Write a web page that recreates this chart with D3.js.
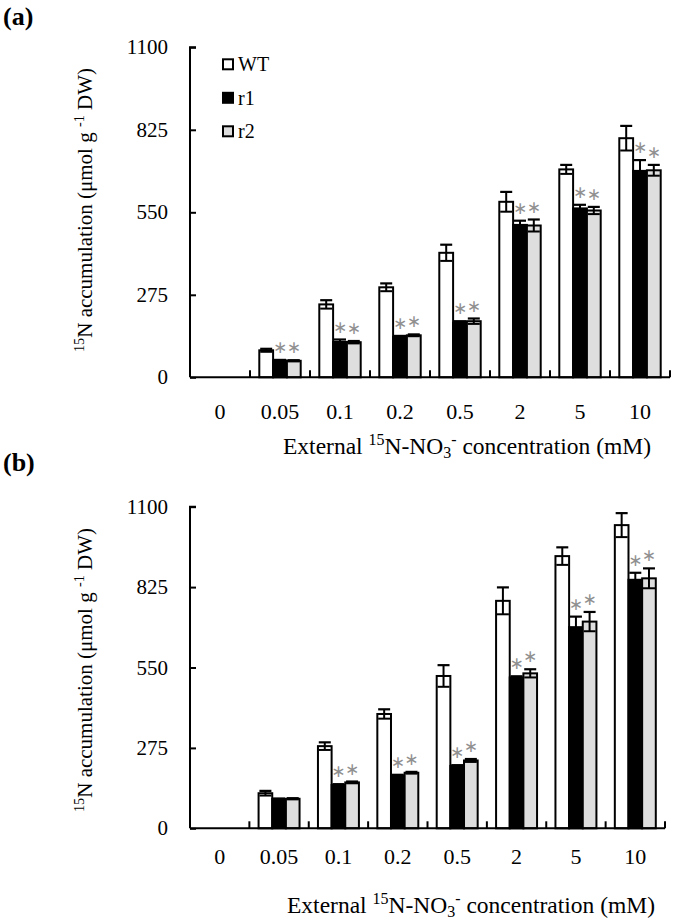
<!DOCTYPE html>
<html><head><meta charset="utf-8">
<script src="https://cdn.jsdelivr.net/npm/d3@7"></script>
<style>
body{margin:0;background:#fff}
svg{display:block}
text{font-family:"Liberation Serif","Times New Roman",serif;fill:#000}
</style>
</head><body>
<svg id="chart" width="675" height="923"></svg>
<script>
// ---------- data ----------
const categories = ["0", "0.05", "0.1", "0.2", "0.5", "2", "5", "10"];
const seriesNames = ["WT", "r1", "r2"];
const yTickValues = [0, 275, 550, 825, 1100];

// panel (a)
const wtA    = [0, 90, 243, 300, 415, 585, 693, 797];
const wtAErr = [0, 5, 14, 13, 27, 33, 15, 41];
const r1A    = [0, 56, 118, 135, 182, 508, 563, 688];
const r1AErr = [0, 2, 8, 3, 5, 14, 12, 36];
const r2A    = [0, 55, 117, 140, 187, 506, 556, 690];
const r2AErr = [0, 2, 4, 3, 9, 20, 12, 18];
const sigA   = [0, 1, 1, 1, 1, 1, 1, 1];

// panel (b)
const wtB    = [0, 120, 281, 391, 521, 778, 931, 1037];
const wtBErr = [0, 8, 13, 16, 37, 46, 30, 41];
const r1B    = [0, 100, 148, 180, 213, 516, 688, 850];
const r1BErr = [0, 2, 3, 3, 3, 4, 36, 24];
const r2B    = [0, 101, 157, 190, 232, 530, 707, 855];
const r2BErr = [0, 2, 3, 3, 5, 14, 33, 34];
const sigB   = [0, 0, 1, 1, 1, 1, 1, 1];

// ---------- styles ----------
const fills = {WT: "#ffffff", r1: "#000000", r2: "#dedede"};
const FONT_TICK = 21, FONT_CAT = 22, FONT_XTITLE = 23.5, FONT_YTITLE = 21, FONT_LEG = 20;

const svg = d3.select("#chart");

function richText(sel, parts, size) {
  let pending = 0;
  parts.forEach(p => {
    const ts = sel.append("tspan");
    if (p.s === "sup") {
      ts.attr("font-size", size * 0.68).attr("dy", pending - size * 0.38);
      pending = size * 0.38;
    } else if (p.s === "sub") {
      ts.attr("font-size", size * 0.68).attr("dy", pending + size * 0.17);
      pending = -size * 0.17;
    } else {
      ts.attr("font-size", size).attr("dy", pending);
      pending = 0;
    }
    ts.text(p.t);
  });
}

function drawPanel(cfg) {
  const g = svg.append("g");
  const y = d3.scaleLinear().domain([0, 1100]).range([cfg.base, cfg.top]);
  const x0 = d3.scaleBand().domain(categories).range([cfg.left, cfg.right]).padding(0);
  const x1 = d3.scaleBand().domain(seriesNames).range([x0.bandwidth() * 0.155, x0.bandwidth() * 0.845]).padding(0);

  const rows = [];
  categories.forEach((c, i) => {
    seriesNames.forEach((s, k) => {
      rows.push({cat: c, s: s, v: cfg.vals[k][i], e: cfg.errs[k][i], sig: k > 0 && cfg.sig[i] === 1});
    });
  });
  const bw = x1.bandwidth();

  // bars
  g.selectAll("rect.bar").data(rows.filter(d => d.v > 0)).join("rect")
    .attr("class", "bar")
    .attr("x", d => x0(d.cat) + x1(d.s))
    .attr("y", d => y(d.v))
    .attr("width", bw)
    .attr("height", d => y(0) - y(d.v))
    .attr("fill", d => fills[d.s])
    .attr("stroke", "#000").attr("stroke-width", 2);

  // error bars
  const eb = g.selectAll("g.err").data(rows.filter(d => d.v > 0 && d.e > 0)).join("g").attr("class", "err");
  const cx = d => x0(d.cat) + x1(d.s) + bw / 2;
  const cap = 6;
  eb.append("line").attr("x1", cx).attr("x2", cx)
    .attr("y1", d => y(d.v + d.e)).attr("y2", d => y(d.v - d.e))
    .attr("stroke", "#000").attr("stroke-width", 2);
  eb.append("line").attr("x1", d => cx(d) - cap).attr("x2", d => cx(d) + cap)
    .attr("y1", d => y(d.v + d.e)).attr("y2", d => y(d.v + d.e))
    .attr("stroke", "#000").attr("stroke-width", 2.2);
  eb.append("line").attr("x1", d => cx(d) - cap).attr("x2", d => cx(d) + cap)
    .attr("y1", d => y(d.v - d.e)).attr("y2", d => y(d.v - d.e))
    .attr("stroke", "#000").attr("stroke-width", 2);

  // asterisks
  g.selectAll("text.star").data(rows.filter(d => d.sig)).join("text")
    .attr("class", "star")
    .attr("x", cx)
    .attr("y", d => y(d.v + d.e) - 7)
    .attr("text-anchor", "middle")
    .style("font-family", "'DejaVu Sans',sans-serif")
    .attr("font-size", 17)
    .style("fill", "#909090")
    .text("\u2217");

  // y axis
  const yAxis = d3.axisRight(y).tickValues(yTickValues).tickSize(6).tickFormat("");
  const ya = g.append("g").attr("transform", `translate(${cfg.left},0)`).call(yAxis);
  ya.select(".domain").attr("d", `M6,${cfg.top}H0V${cfg.base}`).attr("stroke-width", 2);
  ya.selectAll(".tick line").attr("stroke-width", 2);
  g.selectAll("text.ytl").data(yTickValues).join("text").attr("class", "ytl")
    .attr("x", cfg.left - 22).attr("y", d => y(d) + 7)
    .attr("text-anchor", "end").attr("font-size", FONT_TICK).text(d => d);

  // x axis
  g.append("line").attr("x1", cfg.left).attr("x2", cfg.right)
    .attr("y1", cfg.base).attr("y2", cfg.base).attr("stroke", "#000").attr("stroke-width", 2);
  g.selectAll("line.xt").data(categories).join("line").attr("class", "xt")
    .attr("x1", d => x0(d) + x0.bandwidth()).attr("x2", d => x0(d) + x0.bandwidth())
    .attr("y1", cfg.base).attr("y2", cfg.base - 7).attr("stroke", "#000").attr("stroke-width", 2);
  g.selectAll("text.xtl").data(categories).join("text").attr("class", "xtl")
    .attr("x", d => x0(d) + x0.bandwidth() / 2).attr("y", cfg.base + cfg.catOffset)
    .attr("text-anchor", "middle").attr("font-size", FONT_CAT).text(d => d);

  // x title
  const xt = g.append("text").attr("x", cfg.xTitleX).attr("y", cfg.xTitleY).attr("text-anchor", "middle");
  richText(xt, [{t: "External "}, {t: "15", s: "sup"}, {t: "N-NO"}, {t: "3", s: "sub"}, {t: "-", s: "sup"}, {t: " concentration  (mM)"}], FONT_XTITLE);

  // y title
  const yt = g.append("text").attr("text-anchor", "middle")
    .attr("transform", `translate(${cfg.yTitleX},${cfg.yTitleY}) rotate(-90)`);
  richText(yt, [{t: "15", s: "sup"}, {t: "N accumulation (\u03bcmol g "}, {t: "-1", s: "sup"}, {t: " DW)"}], FONT_YTITLE);

  // panel label
  g.append("text").attr("x", 3).attr("y", cfg.labelY).attr("font-size", 26).attr("font-weight", "bold").text(cfg.label);

  // legend
  if (cfg.legend) {
    const lg = g.append("g");
    seriesNames.forEach((s, k) => {
      const ly = cfg.top + 17 + k * 33.5;
      lg.append("rect").attr("x", 223).attr("y", ly - 5).attr("width", 10).attr("height", 10)
        .attr("fill", fills[s]).attr("stroke", "#000").attr("stroke-width", 2);
      lg.append("text").attr("x", 238).attr("y", ly + 7).attr("font-size", FONT_LEG).text(s);
    });
  }
}

drawPanel({top: 47.3, base: 377.3, left: 190, right: 670,
  vals: [wtA, r1A, r2A], errs: [wtAErr, r1AErr, r2AErr], sig: sigA, catOffset: 42,
  xTitleX: 467, xTitleY: 454, yTitleX: 92, yTitleY: 210, label: "(a)", labelY: 25, legend: true});

drawPanel({top: 506.7, base: 828.3, left: 190, right: 665,
  vals: [wtB, r1B, r2B], errs: [wtBErr, r1BErr, r2BErr], sig: sigB, catOffset: 36,
  xTitleX: 471, xTitleY: 913, yTitleX: 92, yTitleY: 670, label: "(b)", labelY: 471, legend: false});
</script>
</body></html>
